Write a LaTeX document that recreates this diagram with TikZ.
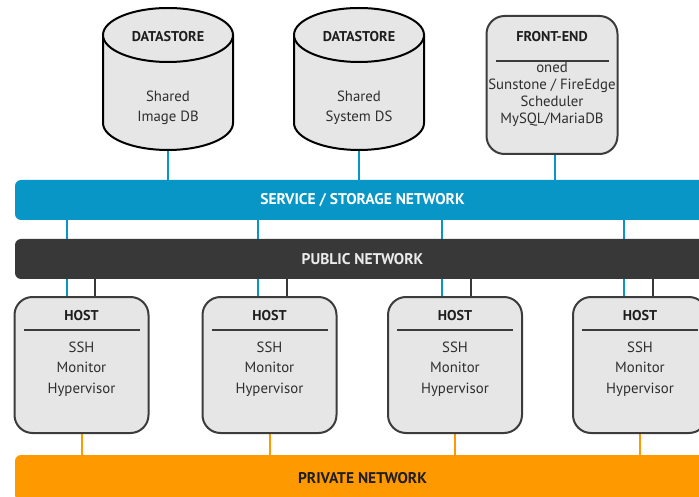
\documentclass[tikz,border=0pt]{standalone}
\usepackage{fontspec}
\setmainfont{PT Sans}
\definecolor{svcblue}{HTML}{0896C6}
\definecolor{pubgray}{HTML}{383838}
\definecolor{privorange}{HTML}{FF9900}
\definecolor{boxfill}{HTML}{E6E6E6}
\definecolor{boxline}{HTML}{3C3C3C}
\definecolor{ink}{HTML}{1E1E1E}
\definecolor{softink}{HTML}{2E2E2E}
\pgfdeclarelayer{links}
\pgfsetlayers{links,main}
\begin{document}
\begin{tikzpicture}[x=1pt,y=1pt,
  netbar/.style={rounded corners=6pt, minimum width=695pt, minimum height=40pt,
    inner sep=0pt, font=\bfseries\fontsize{15.5}{18}\selectfont},
  hostbox/.style={draw=boxline, line width=2pt, fill=boxfill, rounded corners=18pt,
    minimum width=134pt, minimum height=136pt, inner sep=0pt},
  headtext/.style={anchor=base, inner sep=0pt, text=ink, font=\bfseries\fontsize{14.2}{16}\selectfont},
  bodytext/.style={anchor=base, inner sep=0pt, text=softink, font=\fontsize{14.8}{16}\selectfont},
  rule/.style={draw=boxline, line width=2pt},
  svclink/.style={draw=svcblue, line width=2pt},
  publink/.style={draw=pubgray, line width=2pt},
  privlink/.style={draw=privorange, line width=2pt},
  cylfill/.style={fill=boxfill},
  cyledge/.style={draw=black, line width=2pt}]
\useasboundingbox (0,0) rectangle (699,-497);
\clip (0,0) rectangle (699,-497);

% networks
\node[netbar, fill=svcblue, text=white] (svc) at (362.5,-200) {SERVICE / STORAGE NETWORK};
\node[netbar, fill=pubgray, text=white!92!black] (pub) at (362.5,-259) {PUBLIC NETWORK};
\node[netbar, fill=privorange, text=ink, minimum height=46pt] (priv) at (362.5,-478) {PRIVATE NETWORK};

% datastores (cylinders)
\foreach \n/\cx/\la/\lb in {1/168/Shared/Image DB, 2/359/Shared/System DS} {
  \fill[cylfill] (\cx-65,-35) -- (\cx-65,-123)
     arc[start angle=180, end angle=360, x radius=65, y radius=27]
     -- (\cx+65,-35) -- cycle;
  \draw[cyledge] (\cx-65,-35) -- (\cx-65,-123)
     arc[start angle=180, end angle=360, x radius=65, y radius=27]
     -- (\cx+65,-35);
  \draw[cyledge, cylfill] (\cx,-35) ellipse[x radius=65, y radius=27];
  \node[minimum width=130pt, minimum height=142pt, inner sep=0pt] (ds\n) at (\cx,-79) {};
  \node[headtext] (dsh\n) at (\cx,-42) {DATASTORE};
  \node[bodytext] (dsa\n) at (\cx,-102) {\la};
  \node[bodytext] (dsb\n) at (\cx,-122) {\lb};
}

% front-end
\node[hostbox, minimum width=131pt, minimum height=138pt] (fe) at (552,-85) {};
\draw[rule] ([xshift=10pt,yshift=-46pt]fe.north west) -- ([xshift=-10pt,yshift=-46pt]fe.north east);
\node[headtext] (feh) at (552,-42) {FRONT-END};
\node[bodytext] (fe1) at (552,-73) {oned};
\node[bodytext] (fe2) at (552,-90) {Sunstone / FireEdge};
\node[bodytext] (fe3) at (552,-107) {Scheduler};
\node[bodytext] (fe4) at (552,-124) {MySQL/MariaDB};

% hosts
\foreach \i/\x in {1/81.5, 2/269.5, 3/455, 4/640} {
  \node[hostbox] (h\i) at (\x,-365) {};
  \draw[rule] ([xshift=10pt,yshift=-34pt]h\i.north west) -- ([xshift=-10pt,yshift=-34pt]h\i.north east);
  \node[headtext] (hh\i) at (\x,-320) {HOST};
  \node[bodytext] (hs\i) at (\x,-352) {SSH};
  \node[bodytext] (hm\i) at (\x,-372) {Monitor};
  \node[bodytext] (hv\i) at (\x,-393) {Hypervisor};
}

% links, kept behind the bars and boxes
\begin{pgfonlayer}{links}
  \draw[svclink] (ds1.south) -- (ds1.south |- svc.north);
  \draw[svclink] (ds2.south) -- (ds2.south |- svc.north);
  \draw[svclink] ([xshift=3pt]fe.south) -- ([xshift=3pt]fe.south |- svc.north);
  \foreach \i/\b/\g in {1/-14.5/13.5, 2/-11.5/17.5, 3/-13/16, 4/-16/13} {
    \draw[svclink] ([xshift=\b pt]h\i.north) -- ([xshift=\b pt]h\i.north |- svc.south);
    \draw[publink] ([xshift=\g pt]h\i.north) -- ([xshift=\g pt]h\i.north |- pub.south);
    \draw[privlink] (h\i.south) -- (h\i.south |- priv.north);
  }
\end{pgfonlayer}
\end{tikzpicture}
\end{document}
